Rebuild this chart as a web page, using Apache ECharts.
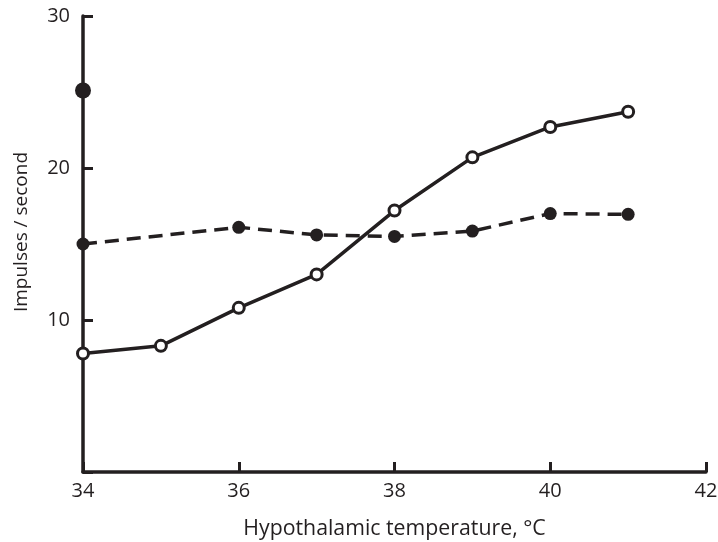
<!DOCTYPE html>
<html><head><meta charset="utf-8">
<script src="https://cdn.jsdelivr.net/npm/echarts@6/dist/echarts.min.js"></script>
<style>html,body{margin:0;padding:0;background:#fff}#c{width:718px;height:542px}</style>
</head><body><div id="c"></div>
<script>
const temps = [34, 35, 36, 37, 38, 39, 40, 41];
const openValues = [7.8, 8.3, 10.8, 13.0, 17.2, 20.7, 22.7, 23.7];
const filledTemps = [34, 36, 37, 38, 39, 40, 41];
const filledValues = [15.0, 16.1, 15.6, 15.5, 15.85, 17.0, 16.95];
const isolatedPoint = [[34, 25.1]];
const xTicks = [34, 36, 38, 40, 42];
const yTicks = [10, 20, 30];

const ink = '#231f20';
const font = 'Open Sans';
const chart = echarts.init(document.getElementById('c'));
chart.setOption({
  animation: false,
  backgroundColor: '#fff',
  grid: {left: 83, right: 12, top: 16, bottom: 70, containLabel: false, outerBoundsMode: 'none'},
  xAxis: {
    type: 'value', min: 34, max: 42, interval: 2,
    name: 'Hypothalamic temperature, °C', nameLocation: 'middle', nameGap: 46,
    nameTextStyle: {fontFamily: font, fontSize: 21.3, color: ink},
    axisLine: {lineStyle: {color: ink, width: 3.5}},
    axisTick: {inside: true, length: 10, lineStyle: {color: ink, width: 3}},
    axisLabel: {fontFamily: font, fontSize: 20, color: ink, margin: 9,
      formatter: v => xTicks.includes(v) ? String(v) : ''},
    splitLine: {show: false}
  },
  yAxis: {
    type: 'value', min: 0, max: 30, interval: 10,
    name: 'Impulses / second', nameLocation: 'middle', nameGap: 52,
    nameTextStyle: {fontFamily: font, fontSize: 19, color: ink, padding: [0, 0, 0, 24]},
    axisLine: {lineStyle: {color: ink, width: 3.5}},
    axisTick: {inside: true, length: 10, lineStyle: {color: ink, width: 3}},
    axisLabel: {fontFamily: font, fontSize: 20, color: ink, margin: 13,
      formatter: v => yTicks.includes(v) ? String(v) : ''},
    splitLine: {show: false}
  },
  series: [
    {
      type: 'line', data: filledTemps.map((t, i) => [t, filledValues[i]]),
      symbol: 'circle', symbolSize: 13, showSymbol: true,
      lineStyle: {color: ink, width: 3.5, type: [14, 8]},
      itemStyle: {color: ink, borderWidth: 0}, z: 2
    },
    {
      type: 'line', data: temps.map((t, i) => [t, openValues[i]]),
      symbol: 'circle', symbolSize: 11, showSymbol: true,
      lineStyle: {color: ink, width: 3.5},
      itemStyle: {color: '#fff', borderColor: ink, borderWidth: 3}, z: 3
    },
    {
      type: 'scatter', data: isolatedPoint, symbol: 'circle', symbolSize: 16,
      itemStyle: {color: ink, opacity: 1}, z: 4
    }
  ]
});
</script></body></html>
